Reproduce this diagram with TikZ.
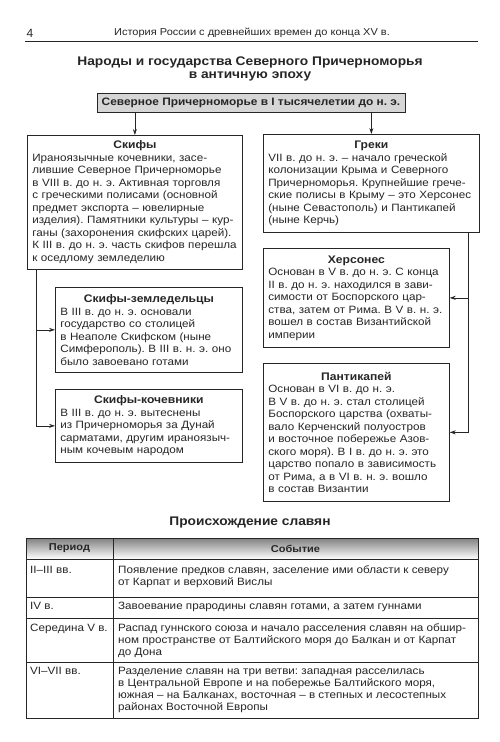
\documentclass[tikz,border=0pt]{standalone}
\usepackage{fontspec}
\setmainfont{Liberation Sans}
\newfontfamily\widesans[FakeStretch=1.1,BoldFeatures={FakeStretch=1.1}]{Liberation Sans}
\usetikzlibrary{arrows.meta}
\setlength{\parindent}{0pt}
\frenchspacing
\definecolor{ink}{HTML}{262626}
\definecolor{shade}{HTML}{D6D6D6}
\newcommand{\boxhead}[1]{\hbox to\hsize{\hfil\fontsize{11}{12.5}\selectfont\bfseries #1\hfil}\\}

\begin{document}
\begin{tikzpicture}[x=1pt,y=-1pt,text=ink,
        card/.style={draw=ink,line width=.7pt,fill=white,anchor=north west,align=left,inner xsep=5pt,inner ysep=2pt,font=\widesans\fontsize{10.6}{12.5}\selectfont},
        link/.style={draw=ink,line width=.7pt,-{Stealth[length=6pt,width=4pt]}},
        cell/.style={anchor=north west,align=left,inner sep=0pt,font=\widesans\fontsize{10.6}{12}\selectfont},
        headcell/.style={inner sep=0pt,font=\widesans\fontsize{10}{12}\selectfont\bfseries},
        grid/.style={draw=ink,line width=.6pt}]
        \useasboundingbox[fill=white] (0,0) rectangle (500,742);
        \node[font=\fontsize{12}{14}\selectfont] (page) at (30,33) {4};
        \node[font=\widesans\fontsize{10}{12}\selectfont] (running) at (252,33) {История России с древнейших времен до конца XV в.};
        \draw[ink,line width=.6pt] (25,41) -- (478,41);
        \node[font=\widesans\fontsize{12.5}{13}\selectfont\bfseries,align=center] (title) at (250,68.5) {Народы и государства Северного Причерноморья\\в античную эпоху};
        \node[draw=ink,line width=.7pt,fill=shade,font=\widesans\fontsize{10.8}{12}\selectfont\bfseries,minimum width=308pt,minimum height=19pt,inner sep=0pt] (sea) at (251,102.5) {Северное Причерноморье в I тысячелетии до н. э.};
        \node[card,text width=205pt,minimum height=134pt] (skify) at (27,135) {\boxhead{Скифы}Ираноязычные кочевники, засе-\\лившие Северное Причерноморье\\в VIII в. до н. э. Активная торговля\\с греческими полисами (основной\\предмет экспорта – ювелирные\\изделия). Памятники культуры – кур-\\ганы (захоронения скифских царей).\\К III в. до н. э. часть скифов перешла\\к оседлому земледелию};
        \node[card,text width=206pt,minimum height=98pt] (greki) at (263,134) {\boxhead{Греки}VII в. до н. э. – начало греческой\\колонизации Крыма и Северного\\Причерноморья. Крупнейшие грече-\\ские полисы в Крыму – это Херсонес\\(ныне Севастополь) и Пантикапей\\(ныне Керчь)};
        \node[card,text width=177pt,minimum height=85pt] (zemled) at (55,287) {\boxhead{Скифы-земледельцы}В III в. до н. э. основали\\государство со столицей\\в Неаполе Скифском (ныне\\Симферополь). В III в. н. э. оно\\было завоевано готами};
        \node[card,text width=177pt,minimum height=73pt] (kochev) at (55,389) {\boxhead{Скифы-кочевники}В III в. до н. э. вытеснены\\из Причерноморья за Дунай\\сарматами, другим ираноязыч-\\ным кочевым народом};
        \node[card,text width=176pt,minimum height=99pt] (herson) at (263,248) {\boxhead{Херсонес}Основан в V в. до н. э. С конца\\II в. до н. э. находился в зави-\\симости от Боспорского цар-\\ства, затем от Рима. В V в. н. э.\\вошел в состав Византийской\\империи};
        \node[card,text width=176pt,minimum height=138pt] (pantik) at (263,363) {\boxhead{Пантикапей}Основан в VI в. до н. э.\\В V в. до н. э. стал столицей\\Боспорского царства (охваты-\\вало Керченский полуостров\\и восточное побережье Азов-\\ского моря). В I в. до н. э. это\\царство попало в зависимость\\от Рима, а в VI в. н. э. вошло\\в состав Византии};
        \draw[link] (sea.south -| skify.north) -- (skify.north);
        \draw[link] (sea.south -| greki.north) -- (greki.north);
        \coordinate (lbus) at (36,269);
        \coordinate (rbus) at (468,232);
        \draw[link] (lbus) |- (zemled.west);
        \draw[link] (lbus) |- (kochev.west);
        \draw[link] (rbus) |- (herson.east);
        \draw[link] (rbus) |- (pantik.east);
        \node[font=\widesans\fontsize{12.5}{13}\selectfont\bfseries] (slavs) at (250,522) {Происхождение славян};
        \fill[shade] (26,538) rectangle (478,559);
        \draw[grid] (26,538) rectangle (478,718);
        \foreach \y in {559,597,618,662}
            \draw[grid] (26,\y) -- (478,\y);
        \draw[grid] (113,538) -- (113,718);
        \node[headcell] (hperiod) at (69.5,548.5) {Период};
        \node[headcell] (hevent) at (295.5,548.5) {Событие};
        \node[cell] (p1) at (30,566) {II–III вв.};
        \node[cell] (e1) at (118,566) {Появление предков славян, заселение ими области к северу\\от Карпат и верховий Вислы};
        \node[cell] (p2) at (30,602) {IV в.};
        \node[cell] (e2) at (118,602) {Завоевание прародины славян готами, а затем гуннами};
        \node[cell] (p3) at (30,623.5) {Середина V в.};
        \node[cell] (e3) at (118,623.5) {Распад гуннского союза и начало расселения славян на обшир-\\ном пространстве от Балтийского моря до Балкан и от Карпат\\до Дона};
        \node[cell] (p4) at (30,667) {VI–VII вв.};
        \node[cell] (e4) at (118,667) {Разделение славян на три ветви: западная расселилась\\в Центральной Европе и на побережье Балтийского моря,\\южная – на Балканах, восточная – в степных и лесостепных\\районах Восточной Европы};
    \end{tikzpicture}
\end{document}
